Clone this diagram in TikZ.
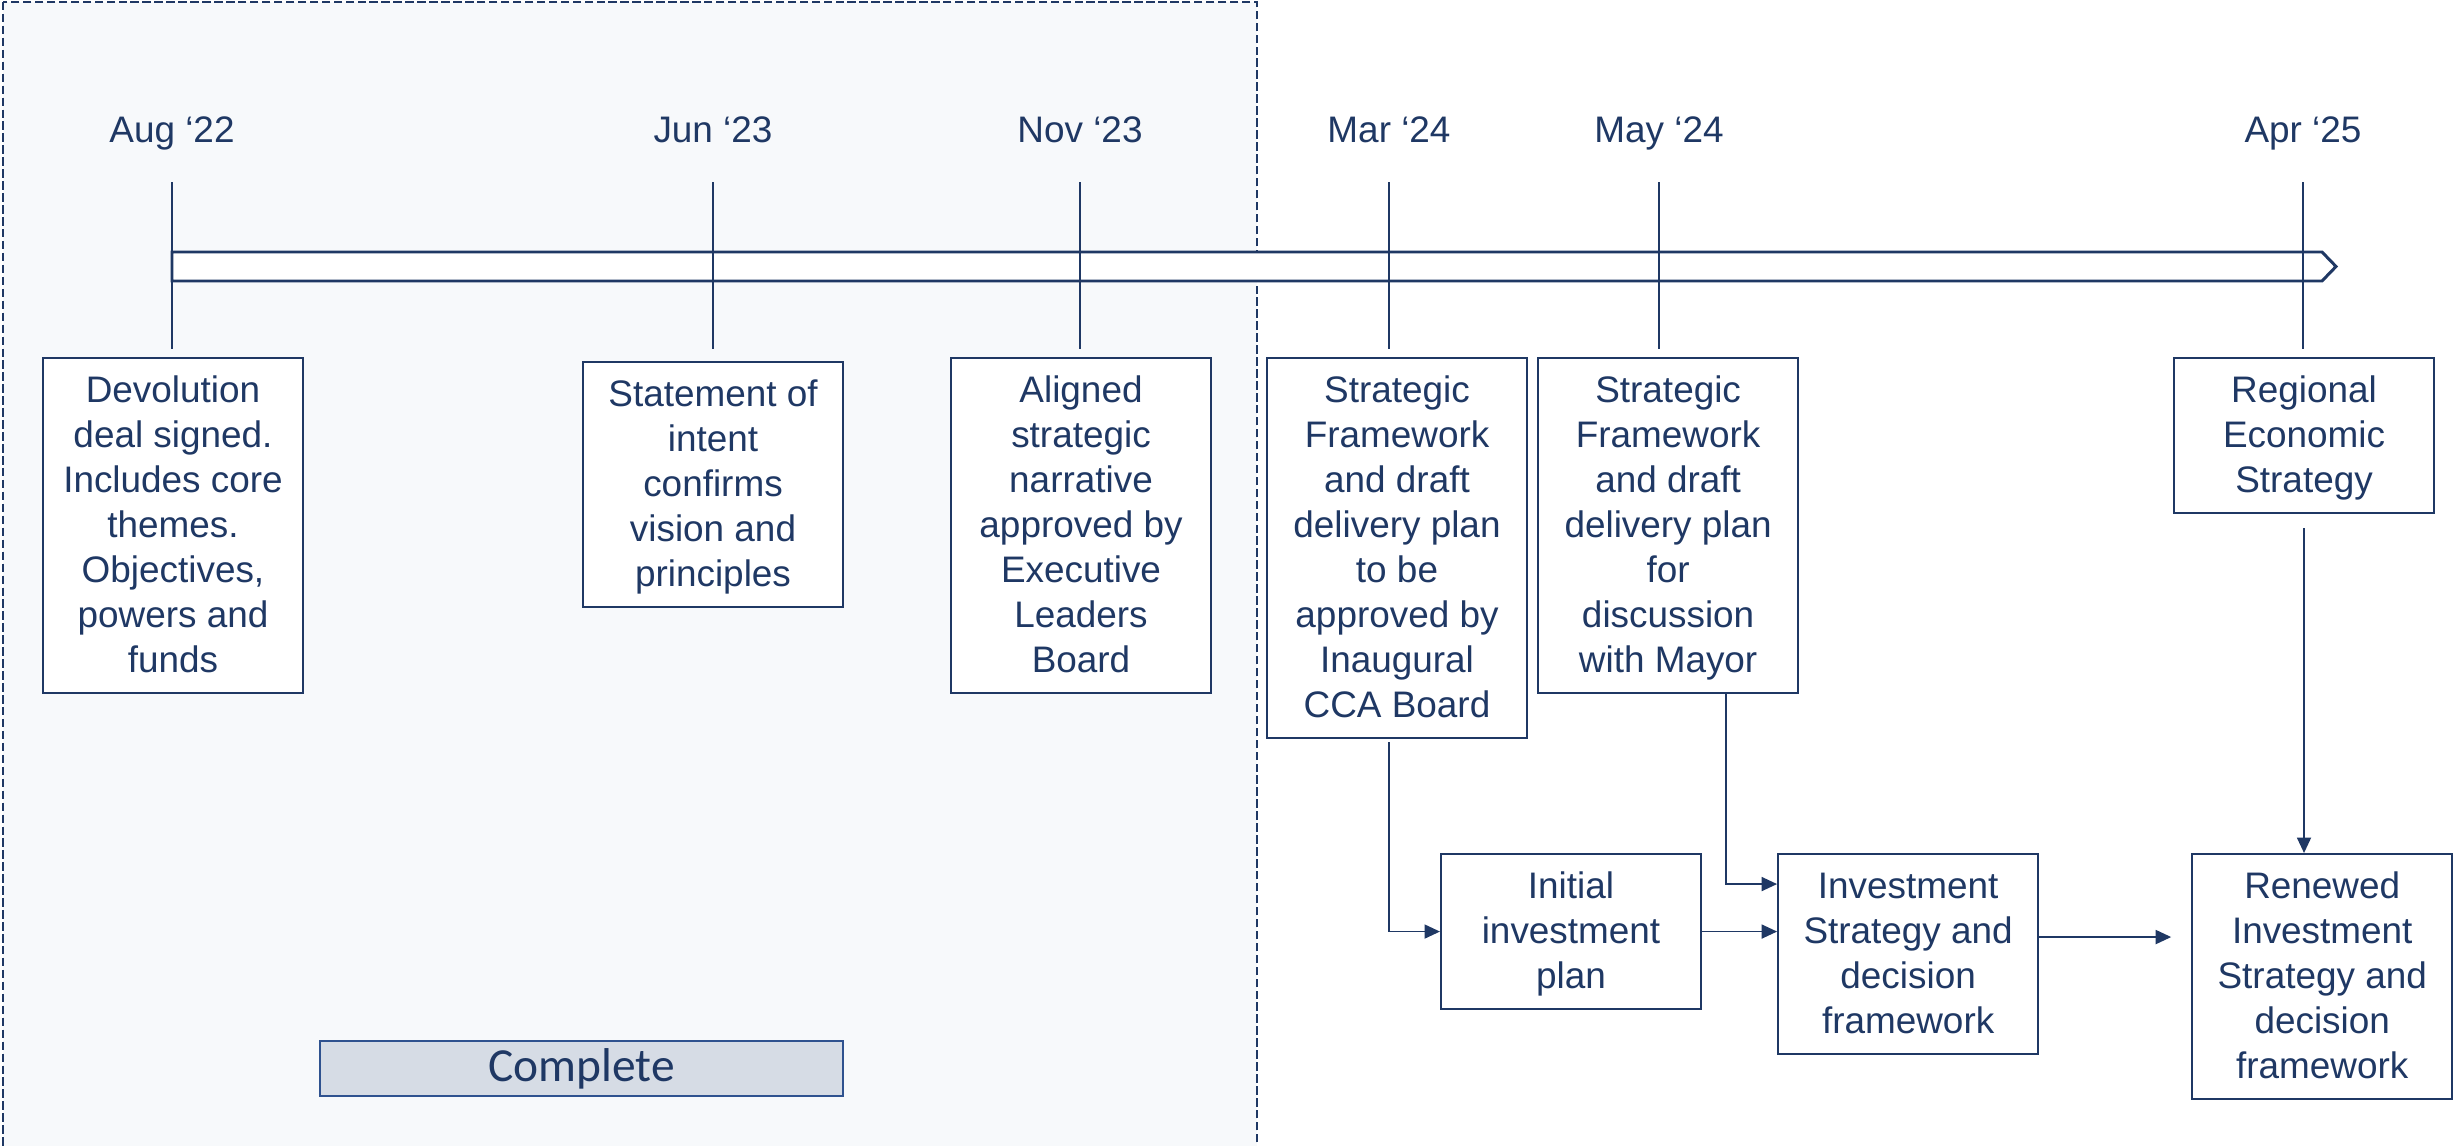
\documentclass[tikz,border=0pt]{standalone}
\usepackage{fontspec}
\setmainfont{Liberation Sans}
\newfontfamily\cfont{Carlito}
\usepackage{tikz}
\usetikzlibrary{arrows.meta,positioning}
\definecolor{navy}{HTML}{1F3864}
\definecolor{shade}{HTML}{F7F9FB}
\definecolor{donefill}{HTML}{D6DCE5}
\definecolor{doneline}{HTML}{2F528F}
\newcommand\ts{\rule{0pt}{9.8pt}}
\newcommand\bs{\rule[-3.1pt]{0pt}{3.1pt}}

\begin{document}
\begin{tikzpicture}[x=0.1mm,y=-0.1mm,
		box/.style={draw=navy,line width=0.6pt,fill=white,text=navy,align=center,minimum width=26mm,inner xsep=1pt,inner ysep=2.8pt,font=\fontsize{10.5}{12.8}\selectfont,execute at end node=\bs},
		date/.style={text=navy,font=\fontsize{10.5}{12.8}\selectfont,anchor=base,inner sep=0pt},
		tick/.style={draw=navy,line width=0.35pt},
		conn/.style={draw=navy,line width=0.45pt,-{Triangle[length=4.4pt,width=4pt]}}]
			\useasboundingbox (0,0) rectangle (2458,1145);
			\fill[white] (0,0) rectangle (2458,1145);
			% done so far
			\draw[navy,fill=shade,line width=0.6pt,dash pattern=on 2.4pt off 1pt] (3,2) rectangle (1257,1170);
			\node[draw=doneline,fill=donefill,line width=0.8pt,minimum width=52.3mm,minimum height=5.5mm,inner ysep=1pt,text=navy,font=\cfont\fontsize{13.5}{16}\selectfont] (done) at (581.5,1068.5) {Complete};
			% timeline
			\node[date] (d_0) at (172,142) {Aug ‘22};
			\node[date] (d_1) at (713,142) {Jun ‘23};
			\node[date] (d_2) at (1080,142) {Nov ‘23};
			\node[date] (d_3) at (1389,142) {Mar ‘24};
			\node[date] (d_4) at (1659,142) {May ‘24};
			\node[date] (d_5) at (2303,142) {Apr ‘25};
			\draw[navy,fill=white,line width=0.85pt] (172,252) -- (2322,252) -- (2336,266.5) -- (2322,281) -- (172,281) -- cycle;
			\foreach \d in {d_0,d_1,d_2,d_3,d_4,d_5}
				\draw[tick] ([yshift=-4mm]\d.base) -- ([yshift=-20.7mm]\d.base);
			% milestones
			\node[box,anchor=north] (b_0) at (173,357) {\ts Devolution\\deal signed.\\Includes core\\themes.\\Objectives,\\powers and\\funds};
			\node[box,anchor=north] (b_1) at (713,361) {\ts Statement of\\intent\\confirms\\vision and\\principles};
			\node[box,anchor=north] (b_2) at (1081,357) {\ts Aligned\\strategic\\narrative\\approved by\\Executive\\Leaders\\Board};
			\node[box,anchor=north] (b_3) at (1397,357) {\ts Strategic\\Framework\\and draft\\delivery plan\\to be\\approved by\\Inaugural\\CCA Board};
			\node[box,right=0.9mm of b_3.north east,anchor=north west] (b_4) {\ts Strategic\\Framework\\and draft\\delivery plan\\for\\discussion\\with Mayor};
			\node[box,anchor=north] (b_5) at (2304,357) {\ts Regional\\Economic\\Strategy};
			% investment
			\node[box,anchor=north] (p_0) at (1571,853) {\ts Initial\\investment\\plan};
			\node[box,right=7.5mm of p_0.north east,anchor=north west] (p_1) {\ts Investment\\Strategy and\\decision\\framework};
			\node[box,right=15.2mm of p_1.north east,anchor=north west] (p_2) {\ts Renewed\\Investment\\Strategy and\\decision\\framework};
			\draw[conn] ([yshift=-0.3mm]b_3.south -| d_3) |- (p_0);
			\draw[conn] ([xshift=5.8mm]b_4.south) |- ([yshift=7mm]p_1.west);
			\draw[conn] (p_0) -- (p_0 -| p_1.west);
			\draw[conn,shorten >=2mm] ([yshift=1.7mm]p_1.east) -- ([yshift=1.7mm]p_1.east -| p_2.west);
			\draw[conn,shorten <=1.4mm] (b_5) -- (b_5 |- p_2.north);
		\end{tikzpicture}
\end{document}
